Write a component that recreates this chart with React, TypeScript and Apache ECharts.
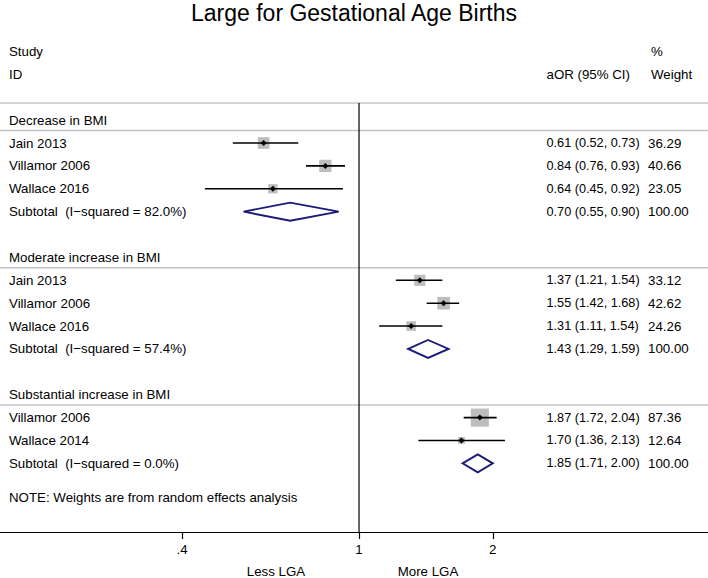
import React, { useEffect, useRef } from "react";
import * as echarts from "echarts";

// ---------- data ----------
const chartTitle = "Large for Gestational Age Births";
const groupNames = ["Decrease in BMI", "Moderate increase in BMI", "Substantial increase in BMI"];
const studyNames = ["Jain 2013", "Villamor 2006", "Wallace 2016", "Jain 2013", "Villamor 2006", "Wallace 2016", "Villamor 2006", "Wallace 2014"];
const studyGroup = [0, 0, 0, 1, 1, 1, 2, 2];
const studyOR = [0.61, 0.84, 0.64, 1.37, 1.55, 1.31, 1.87, 1.7];
const studyLo = [0.52, 0.76, 0.45, 1.21, 1.42, 1.11, 1.72, 1.36];
const studyHi = [0.73, 0.93, 0.92, 1.54, 1.68, 1.54, 2.04, 2.13];
const studyWeight = [36.29, 40.66, 23.05, 33.12, 42.62, 24.26, 87.36, 12.64];
const subtotalI2 = [82.0, 57.4, 0.0];
const subtotalOR = [0.7, 1.43, 1.85];
const subtotalLo = [0.55, 1.29, 1.71];
const subtotalHi = [0.9, 1.59, 2.0];
const tickValues = [0.4, 1, 2];
const tickLabels = [".4", "1", "2"];
const headerStudy = ["Study", "ID"];
const headerEstimate = "aOR (95% CI)";
const headerWeight = ["%", "Weight"];
const noteText = "NOTE: Weights are from random effects analysis";
const sideLabels = ["Less LGA", "More LGA"];

// ---------- layout ----------
const W = 708;
const H = 578;
const X_MIN = -1.86; // ln scale
const X_MAX = 1.808;
const ROW0 = 51.5;
const ROW_H = 22.88;
const Y_MIN = -2;
const Y_MAX = 21;
const FONT = '"Liberation Sans", Arial, Helvetica, sans-serif';
const FS = 13.3;
const FS_EST = 12.7;
const COL_STUDY = 9;
const COL_EST = 546.5;
const COL_W = 648;
const BOX_K = 1.93;

const fmt = (v: number) => v.toFixed(2);

// build row positions
type TextRow = { row: number; x: number; text: string; fs?: number };
const textRows: TextRow[] = [];
const ruleRows: number[] = [2.25];
const studyRow: number[] = [];
const subtotalRow: number[] = [];
textRows.push({ row: 0, x: COL_STUDY, text: headerStudy[0] });
textRows.push({ row: 1, x: COL_STUDY, text: headerStudy[1] });
textRows.push({ row: 1, x: COL_EST, text: headerEstimate });
textRows.push({ row: 0, x: 651, text: headerWeight[0] });
textRows.push({ row: 1, x: 651, text: headerWeight[1] });
let r = 3;
groupNames.forEach((g, gi) => {
  textRows.push({ row: r, x: COL_STUDY, text: g });
  ruleRows.push(r + 0.45);
  r++;
  studyNames.forEach((n, i) => {
    if (studyGroup[i] !== gi) return;
    studyRow[i] = r;
    textRows.push({ row: r, x: COL_STUDY, text: n });
    textRows.push({ row: r, x: COL_EST, fs: FS_EST, text: `${fmt(studyOR[i])} (${fmt(studyLo[i])}, ${fmt(studyHi[i])})` });
    textRows.push({ row: r, x: COL_W, text: fmt(studyWeight[i]) });
    r++;
  });
  subtotalRow[gi] = r;
  textRows.push({ row: r, x: COL_STUDY, text: `Subtotal\u00a0 (I\u2212squared = ${subtotalI2[gi].toFixed(1)}%)` });
  textRows.push({ row: r, x: COL_EST, fs: FS_EST, text: `${fmt(subtotalOR[gi])} (${fmt(subtotalLo[gi])}, ${fmt(subtotalHi[gi])})` });
  textRows.push({ row: r, x: COL_W, text: "100.00" });
  r += 2;
});
textRows.push({ row: r - 0.5, x: COL_STUDY, text: noteText });

export default function App() {
  const ref = useRef<HTMLDivElement>(null);
  useEffect(() => {
    if (!ref.current) return;
    const chart = echarts.init(ref.current, undefined, { renderer: "svg" });
    const textStyle = (text: string, align = "left", fs = FS) => ({
      text,
      fill: "#000",
      fontSize: fs,
      fontFamily: FONT,
      align,
      verticalAlign: "middle",
      textAlign: align,
      textVerticalAlign: "middle",
    });
    const tickLn = tickValues.map((v) => Math.log(v));
    chart.setOption({
      animation: false,
      backgroundColor: "#fff",
      grid: { left: 0, right: 0, top: ROW0 + Y_MIN * ROW_H, height: (Y_MAX - Y_MIN) * ROW_H },
      xAxis: {
        type: "value",
        min: X_MIN,
        max: X_MAX,
        splitLine: { show: false },
        axisLine: { show: true, onZero: false, lineStyle: { color: "#000", width: 1.2 } },
        axisTick: { show: true, length: 7, customValues: tickLn, lineStyle: { color: "#000", width: 1.2 } },
        axisLabel: {
          customValues: tickLn,
          color: "#000",
          fontSize: FS,
          fontFamily: FONT,
          margin: 11,
          formatter: (v: number) => {
            let best = 0;
            tickLn.forEach((t, i) => {
              if (Math.abs(t - v) < Math.abs(tickLn[best] - v)) best = i;
            });
            return tickLabels[best];
          },
        },
      },
      yAxis: { type: "value", inverse: true, min: Y_MIN, max: Y_MAX, show: false },
      graphic: [
        {
          type: "text",
          x: W / 2,
          y: 12.5,
          style: { text: chartTitle, fill: "#000", fontSize: 23, fontFamily: FONT, align: "center", verticalAlign: "middle", textAlign: "center", textVerticalAlign: "middle" },
        },
        {
          type: "text",
          x: 276,
          y: 571,
          style: { ...textStyle(sideLabels[0], "center") },
        },
        {
          type: "text",
          x: 428,
          y: 571,
          style: { ...textStyle(sideLabels[1], "center") },
        },
      ],
      series: [
        {
          name: "rules",
          type: "custom",
          data: ruleRows.map((y) => [0, y]),
          renderItem: (params: any, api: any) => {
            const p = api.coord([0, api.value(1)]);
            return {
              type: "line",
              shape: { x1: 0, y1: p[1], x2: W, y2: p[1] },
              style: { stroke: "#c4c4c4", lineWidth: 1.5 },
            };
          },
        },
        {
          name: "reference",
          type: "custom",
          data: [[0, 2.25, Y_MAX]],
          renderItem: (params: any, api: any) => {
            const a = api.coord([api.value(0), api.value(1)]);
            const b = api.coord([api.value(0), api.value(2)]);
            return {
              type: "line",
              shape: { x1: a[0], y1: a[1], x2: b[0], y2: b[1] },
              style: { stroke: "#000", lineWidth: 1.2 },
            };
          },
        },
        {
          name: "studies",
          type: "custom",
          data: studyNames.map((_, i) => [Math.log(studyLo[i]), Math.log(studyHi[i]), Math.log(studyOR[i]), studyRow[i], studyWeight[i]]),
          renderItem: (params: any, api: any) => {
            const y = api.value(3);
            const lo = api.coord([api.value(0), y]);
            const hi = api.coord([api.value(1), y]);
            const c = api.coord([api.value(2), y]);
            const s = BOX_K * Math.sqrt(api.value(4));
            const d = 3;
            return {
              type: "group",
              children: [
                { type: "rect", shape: { x: c[0] - s / 2, y: c[1] - s / 2, width: s, height: s }, style: { fill: "#bdbdbd" } },
                { type: "line", shape: { x1: lo[0], y1: lo[1], x2: hi[0], y2: hi[1] }, style: { stroke: "#000", lineWidth: 1.6 } },
                {
                  type: "polygon",
                  shape: { points: [[c[0] - d, c[1]], [c[0], c[1] - d], [c[0] + d, c[1]], [c[0], c[1] + d]] },
                  style: { fill: "#000" },
                },
              ],
            };
          },
        },
        {
          name: "subtotals",
          type: "custom",
          data: groupNames.map((_, g) => [Math.log(subtotalLo[g]), Math.log(subtotalHi[g]), Math.log(subtotalOR[g]), subtotalRow[g]]),
          renderItem: (params: any, api: any) => {
            const y = api.value(3);
            const lo = api.coord([api.value(0), y]);
            const hi = api.coord([api.value(1), y]);
            const c = api.coord([api.value(2), y]);
            const h = 9;
            return {
              type: "polygon",
              shape: { points: [[lo[0], lo[1]], [c[0], c[1] - h], [hi[0], hi[1]], [c[0], c[1] + h]] },
              style: { fill: "none", stroke: "#1a1a78", lineWidth: 1.9, lineJoin: "miter" },
            };
          },
        },
        {
          name: "texts",
          type: "custom",
          data: textRows.map((t) => [0, t.row]),
          renderItem: (params: any, api: any) => {
            const t = textRows[params.dataIndex];
            const p = api.coord([0, api.value(1)]);
            return { type: "text", x: t.x, y: p[1], style: textStyle(t.text, "left", t.fs || FS) };
          },
        },
      ],
    });
    return () => chart.dispose();
  }, []);
  return <div ref={ref} style={{ position: "fixed", left: 0, top: 0, width: W, height: H, background: "#fff" }} />;
}
